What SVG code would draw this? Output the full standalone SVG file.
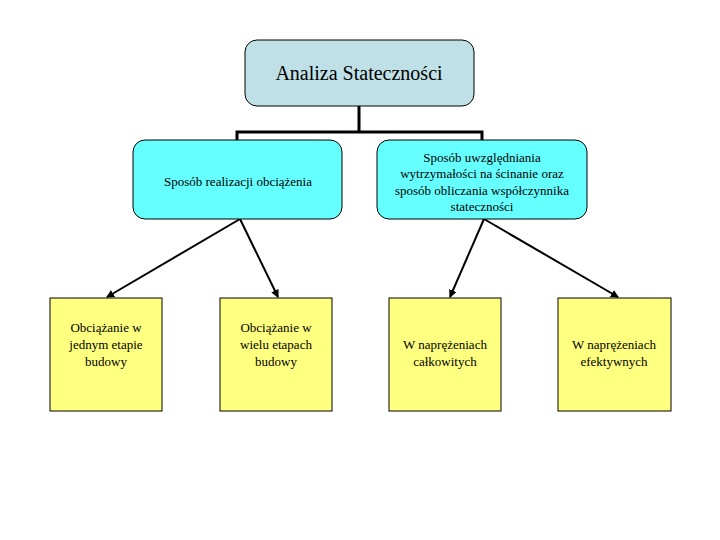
<svg xmlns="http://www.w3.org/2000/svg" width="720" height="540" viewBox="0 0 720 540">
<style>
text{font-family:"Liberation Serif","Times New Roman",serif;fill:#000;text-anchor:middle}
.t{font-size:13px}
.y{fill:#ffff80;stroke:#000;stroke-width:1}
.c{fill:#66ffff;stroke:#000;stroke-width:1}
.l{stroke:#000;fill:none}
</style>
<defs><marker id="a" markerWidth="8" markerHeight="8" refX="7" refY="4" orient="auto" markerUnits="userSpaceOnUse"><path d="M0,0L8,4L0,8z" fill="#000"/></marker></defs>
<rect width="720" height="540" fill="#fff"/>
<g id="connectors">
<path class="l" stroke-width="3" d="M359,106V132M237,140V132H482V140"/>
<path class="l" stroke-width="2" marker-end="url(#a)" d="M240,219L107,297"/>
<path class="l" stroke-width="2" marker-end="url(#a)" d="M240,219L278,297"/>
<path class="l" stroke-width="2" marker-end="url(#a)" d="M484,219L450,297"/>
<path class="l" stroke-width="2" marker-end="url(#a)" d="M484,219L618,297"/>
</g>
<g id="root"><rect x="245" y="40" width="229" height="66" rx="12" fill="#bfe0e6" stroke="#000"/><text x="359" y="80" font-size="20">Analiza Stateczności</text></g>
<g id="n1"><rect class="c" x="133" y="140" width="209" height="79" rx="12"/><text class="t" x="238" y="186">Sposób realizacji obciążenia</text></g>
<g id="n2"><rect class="c" x="377" y="140" width="210" height="79" rx="12"/><text class="t" x="482" y="162">Sposób uwzględniania</text><text class="t" x="482" y="178">wytrzymałości na ścinanie oraz</text><text class="t" x="482" y="195">sposób obliczania współczynnika</text><text class="t" x="482" y="211">stateczności</text></g>
<g id="y1"><rect class="y" x="50" y="298" width="112" height="113"/><text class="t" x="106" y="332">Obciążanie w</text><text class="t" x="106" y="349">jednym etapie</text><text class="t" x="106" y="366">budowy</text></g>
<g id="y2"><rect class="y" x="220" y="298" width="112" height="113"/><text class="t" x="276" y="332">Obciążanie w</text><text class="t" x="276" y="349">wielu etapach</text><text class="t" x="276" y="366">budowy</text></g>
<g id="y3"><rect class="y" x="389" y="298" width="112" height="113"/><text class="t" x="445" y="349">W naprężeniach</text><text class="t" x="445" y="366">całkowitych</text></g>
<g id="y4"><rect class="y" x="558" y="298" width="113" height="113"/><text class="t" x="614" y="349">W naprężeniach</text><text class="t" x="614" y="366">efektywnych</text></g>
</svg>
